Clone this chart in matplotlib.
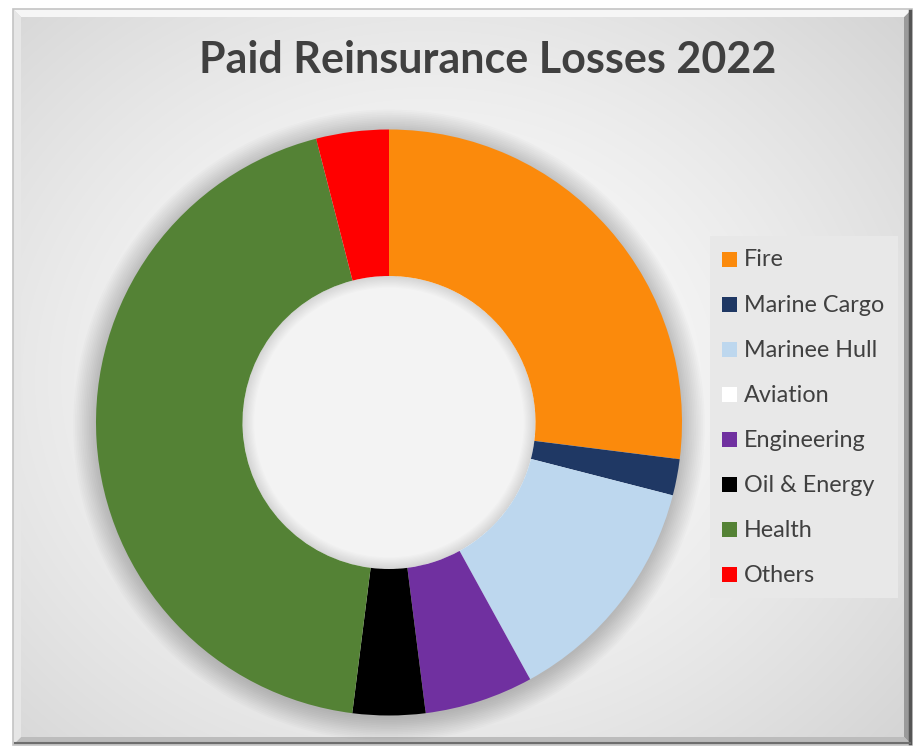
import numpy as np
import matplotlib
matplotlib.use('Agg')
from matplotlib import pyplot as plt
from matplotlib.patches import Rectangle, Polygon, Wedge

plt.rcParams['font.family'] = ['Lato', 'DejaVu Sans']

# data (% of paid losses)
categories = ['Fire', 'Marine Cargo', 'Marinee Hull', 'Aviation',
              'Engineering', 'Oil & Energy', 'Health', 'Others']
shares = [27.0, 2.0, 13.0, 0.0, 6.0, 4.0, 44.0, 4.0]
colors = ['#FB8A0C', '#1F3864', '#BDD7EE', '#FFFFFF',
          '#7030A0', '#000000', '#548235', '#FF0000']
title = 'Paid Reinsurance Losses 2022'

W, H = 919, 752
fig = plt.figure(figsize=(W / 100, H / 100), dpi=100)
fig.patch.set_facecolor('white')

# overlay axes in pixel coords: background, frame, legend
bg = fig.add_axes([0, 0, 1, 1])
bg.set_xlim(0, W)
bg.set_ylim(H, 0)
bg.axis('off')

# radial gradient background inside the frame
x0, x1, y0, y1 = 13, 912, 9, 745
gx, gy = np.meshgrid(np.linspace(x0, x1, 300), np.linspace(y0, y1, 250))
d = np.sqrt(((gx - 430) / 560) ** 2 + ((gy - 380) / 480) ** 2)
shade = 1.0 - 0.14 * np.clip(d, 0, 1.3) ** 1.4
bg.imshow(np.dstack([shade] * 3), extent=(x0, x1, y1, y0), aspect='auto',
          interpolation='bilinear', zorder=0)

# bevelled frame
bv = 8
bg.add_patch(Polygon([(x1, y0), (x1, y1), (x1 - bv, y1 - bv), (x1 - bv, y0 + bv)],
                     closed=True, facecolor='#9a9a9a', edgecolor='none', zorder=2))
bg.add_patch(Polygon([(x0, y1), (x1, y1), (x1 - bv, y1 - bv), (x0 + bv, y1 - bv)],
                     closed=True, facecolor='#bcbcbc', edgecolor='none', zorder=2))
bg.add_patch(Polygon([(x0, y0), (x1, y0), (x1 - bv, y0 + bv), (x0 + bv, y0 + bv)],
                     closed=True, facecolor='#f6f6f6', edgecolor='none', zorder=2))
bg.add_patch(Polygon([(x0, y0), (x0, y1), (x0 + bv, y1 - bv), (x0 + bv, y0 + bv)],
                     closed=True, facecolor='#e6e6e6', edgecolor='none', zorder=2))
bg.add_patch(Rectangle((x0, y0), x1 - x0, y1 - y0, fill=False,
                       edgecolor='#c4c4c4', lw=1.2, zorder=3))
bg.plot([x1 - 2, x1 - 2], [y0 + 2, y1 - 2], color='#555555', lw=2.5, zorder=4)
bg.plot([x0 + 2, x1 - 2], [y1 - 2, y1 - 2], color='#6e6e6e', lw=1.5, zorder=4)

# legend (drawn by hand to match the spacing)
bg.add_patch(Rectangle((710, 236), 188, 362, facecolor='#e8e8e8',
                       edgecolor='none', zorder=5))
for i, (lab, col) in enumerate(zip(categories, colors)):
    yc = 259 + 45.1 * i
    bg.add_patch(Rectangle((722, yc - 7.5), 15, 15, facecolor=col,
                           edgecolor='none', zorder=6))
    bg.text(744, yc + 1, lab, fontsize=16.8, color='#404040', va='center',
            ha='left', zorder=6)

fig.text(488 / W, 1 - 73 / H, title, ha='center', va='baseline',
         fontsize=31, fontweight='bold', color='#404040')

# donut
cx, cy, r = 389, 422.5, 293
ax = fig.add_axes([(cx - r) / W, (H - cy - r) / H, 2 * r / W, 2 * r / H])
ax.patch.set_alpha(0)
# soft shadow outside the ring
for k in range(14):
    ax.add_artist(Wedge((0, -0.01), 1.0 + 0.006 * k, 0, 360, width=0.006 * k + 0.02,
                        facecolor='black', edgecolor='none', alpha=0.016,
                        clip_on=False, zorder=0))
# faint inner shading of the hole
ax.add_artist(Wedge((0, 0), 0.5, 0, 360, width=0.5, facecolor='#f3f3f3',
                    edgecolor='none', zorder=0.5))
for k in range(10):
    ax.add_artist(Wedge((0, 0), 0.5, 0, 360, width=0.004 * (k + 1),
                        facecolor='black', edgecolor='none', alpha=0.011,
                        zorder=0.6))
ax.pie(shares, colors=colors, startangle=90, counterclock=False,
       radius=1.0, wedgeprops=dict(width=0.5, linewidth=0))
ax.set_xlim(-1, 1)
ax.set_ylim(-1, 1)
ax.axis('off')

plt.savefig('out.png', dpi=100)
